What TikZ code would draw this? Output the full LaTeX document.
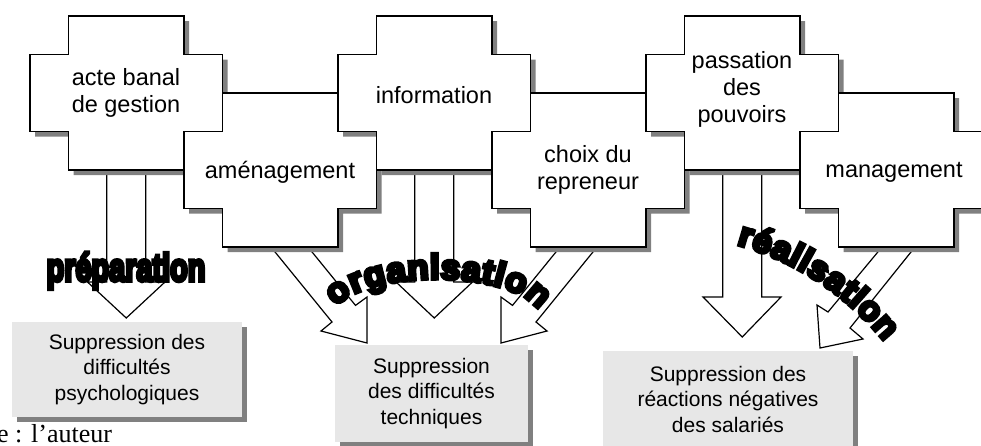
\documentclass[tikz,border=0pt]{standalone}
\usepackage{fontspec}
\setmainfont{Liberation Sans}
\newfontfamily\sourcefont{Liberation Serif}
\newfontfamily\artfont[FakeBold=10]{Liberation Sans Bold}
\usetikzlibrary{decorations.text,shadows}
\definecolor{shadowgray}{RGB}{128,128,128}
\definecolor{boxgray}{RGB}{231,231,231}
\tikzset{
  plusshape/.style={insert path={++(38.5,0) -- ++(115.5,0) -- ++(0,-38.5) -- ++(38.5,0) -- ++(0,-77) -- ++(-38.5,0) -- ++(0,-38.5) -- ++(-115.5,0) -- ++(0,38.5) -- ++(-38.5,0) -- ++(0,77) -- ++(38.5,0) -- cycle}},
  crossline/.style={draw=black, line width=1.8pt, fill=white, line join=miter,
    drop shadow={opacity=1, fill=shadowgray, shadow xshift=5pt, shadow yshift=-5pt}},
  crosslabel/.style={align=center, inner sep=0pt, font=\fontsize{23.5}{27}\selectfont},
  greybox/.style={fill=boxgray, inner sep=0pt, align=center, font=\fontsize{21}{25.5}\selectfont,
    drop shadow={opacity=1, fill=shadowgray, shadow xshift=5pt, shadow yshift=-5pt}},
  blockarrow/.style={draw=black, fill=white, line width=1.2pt, line join=miter},
  wordart/.style={inner sep=0pt, font=\artfont\fontsize{39}{39}\selectfont}
}
\begin{document}
\begin{tikzpicture}[x=1pt, y=1pt]
  \useasboundingbox (0,0) rectangle (981,-445);
  % result boxes
  \node[greybox, minimum width=230pt, minimum height=95pt] (box1) at (127,-369.5)
    {Suppression des\\difficultés\\psychologiques};
  \node[greybox, minimum width=193pt, minimum height=97pt] (box2) at (431.5,-393.5)
    {Suppression\\des difficultés\\techniques};
  \node[greybox, minimum width=250pt, minimum height=96pt] (box3) at (728,-399)
    {Suppression des\\réactions négatives\\des salariés};
  % block arrows
  \draw[blockarrow] (106.75,-170) -- (106.75,-282) -- (87.5,-282) -- (126.25,-318)
    -- (165,-282) -- (145.75,-282) -- (145.75,-170);
  \draw[blockarrow] (414.75,-170) -- (414.75,-282) -- (396,-282) -- (434.25,-318)
    -- (472.5,-282) -- (453.75,-282) -- (453.75,-170);
  \draw[blockarrow] (722.75,-170) -- (722.75,-297) -- (703,-297) -- (742.25,-337)
    -- (781,-297) -- (761.75,-297) -- (761.75,-170);
  \draw[blockarrow] (271,-247) -- (332,-322) -- (321,-331) -- (367,-343)
    -- (367,-297) -- (355.5,-305.4) -- (308,-247);
  \draw[blockarrow] (597,-247) -- (536,-322) -- (547,-331) -- (501,-343)
    -- (501,-297) -- (512.5,-305.4) -- (560,-247);
  \draw[blockarrow] (915,-247) -- (850,-328) -- (863,-339) -- (820,-348)
    -- (817,-305) -- (828,-312) -- (882,-247);
  % crosses
  \coordinate (c0) at (30,-16);
  \coordinate (c1) at (184,-93);
  \coordinate (c2) at (338,-16);
  \coordinate (c3) at (492,-93);
  \coordinate (c4) at (646,-16);
  \coordinate (c5) at (800,-93);
  \draw[crossline] (c0) [plusshape];
  \node[crosslabel] (acte) at ([shift={(96,-77)}]c0) {acte banal\\de gestion};
  \draw[crossline] (c1) [plusshape];
  \node[crosslabel] (amenag) at ([shift={(96,-79)}]c1) {aménagement};
  \draw[crossline] (c2) [plusshape];
  \node[crosslabel] (info) at ([shift={(96,-79)}]c2) {information};
  \draw[crossline] (c3) [plusshape];
  \node[crosslabel] (choix) at ([shift={(96,-77)}]c3) {choix du\\repreneur};
  \draw[crossline] (c4) [plusshape];
  \node[crosslabel] (passation) at ([shift={(96,-73)}]c4) {passation\\des\\pouvoirs};
  \draw[crossline] (c5) [plusshape];
  \node[crosslabel] (manag) at ([shift={(94,-79)}]c5) {management};
  % word art
  \node[wordart, anchor=base] (prep) at (126,-281) {\scalebox{0.74}[1]{préparation}};
  \path[decorate, decoration={text along path, text align={fit to path},
    text={|\artfont\fontsize{35}{35}\selectfont|organisation}}]
    (436,-318) ++(164:104 and 39) arc[start angle=164, end angle=11, x radius=104, y radius=39];
  \path[decorate, decoration={text along path, text align={fit to path},
    text={|\artfont\fontsize{34.5}{34.5}\selectfont|réalisation}}]
    (659,-524) ++(74.5:290) arc[start angle=74.5, end angle=39, radius=290];
  % source
  \node[anchor=base west, inner sep=0pt, font=\sourcefont\fontsize{26}{26}\selectfont] (source)
    at (-3,-442) {e : l’auteur};
\end{tikzpicture}
\end{document}
